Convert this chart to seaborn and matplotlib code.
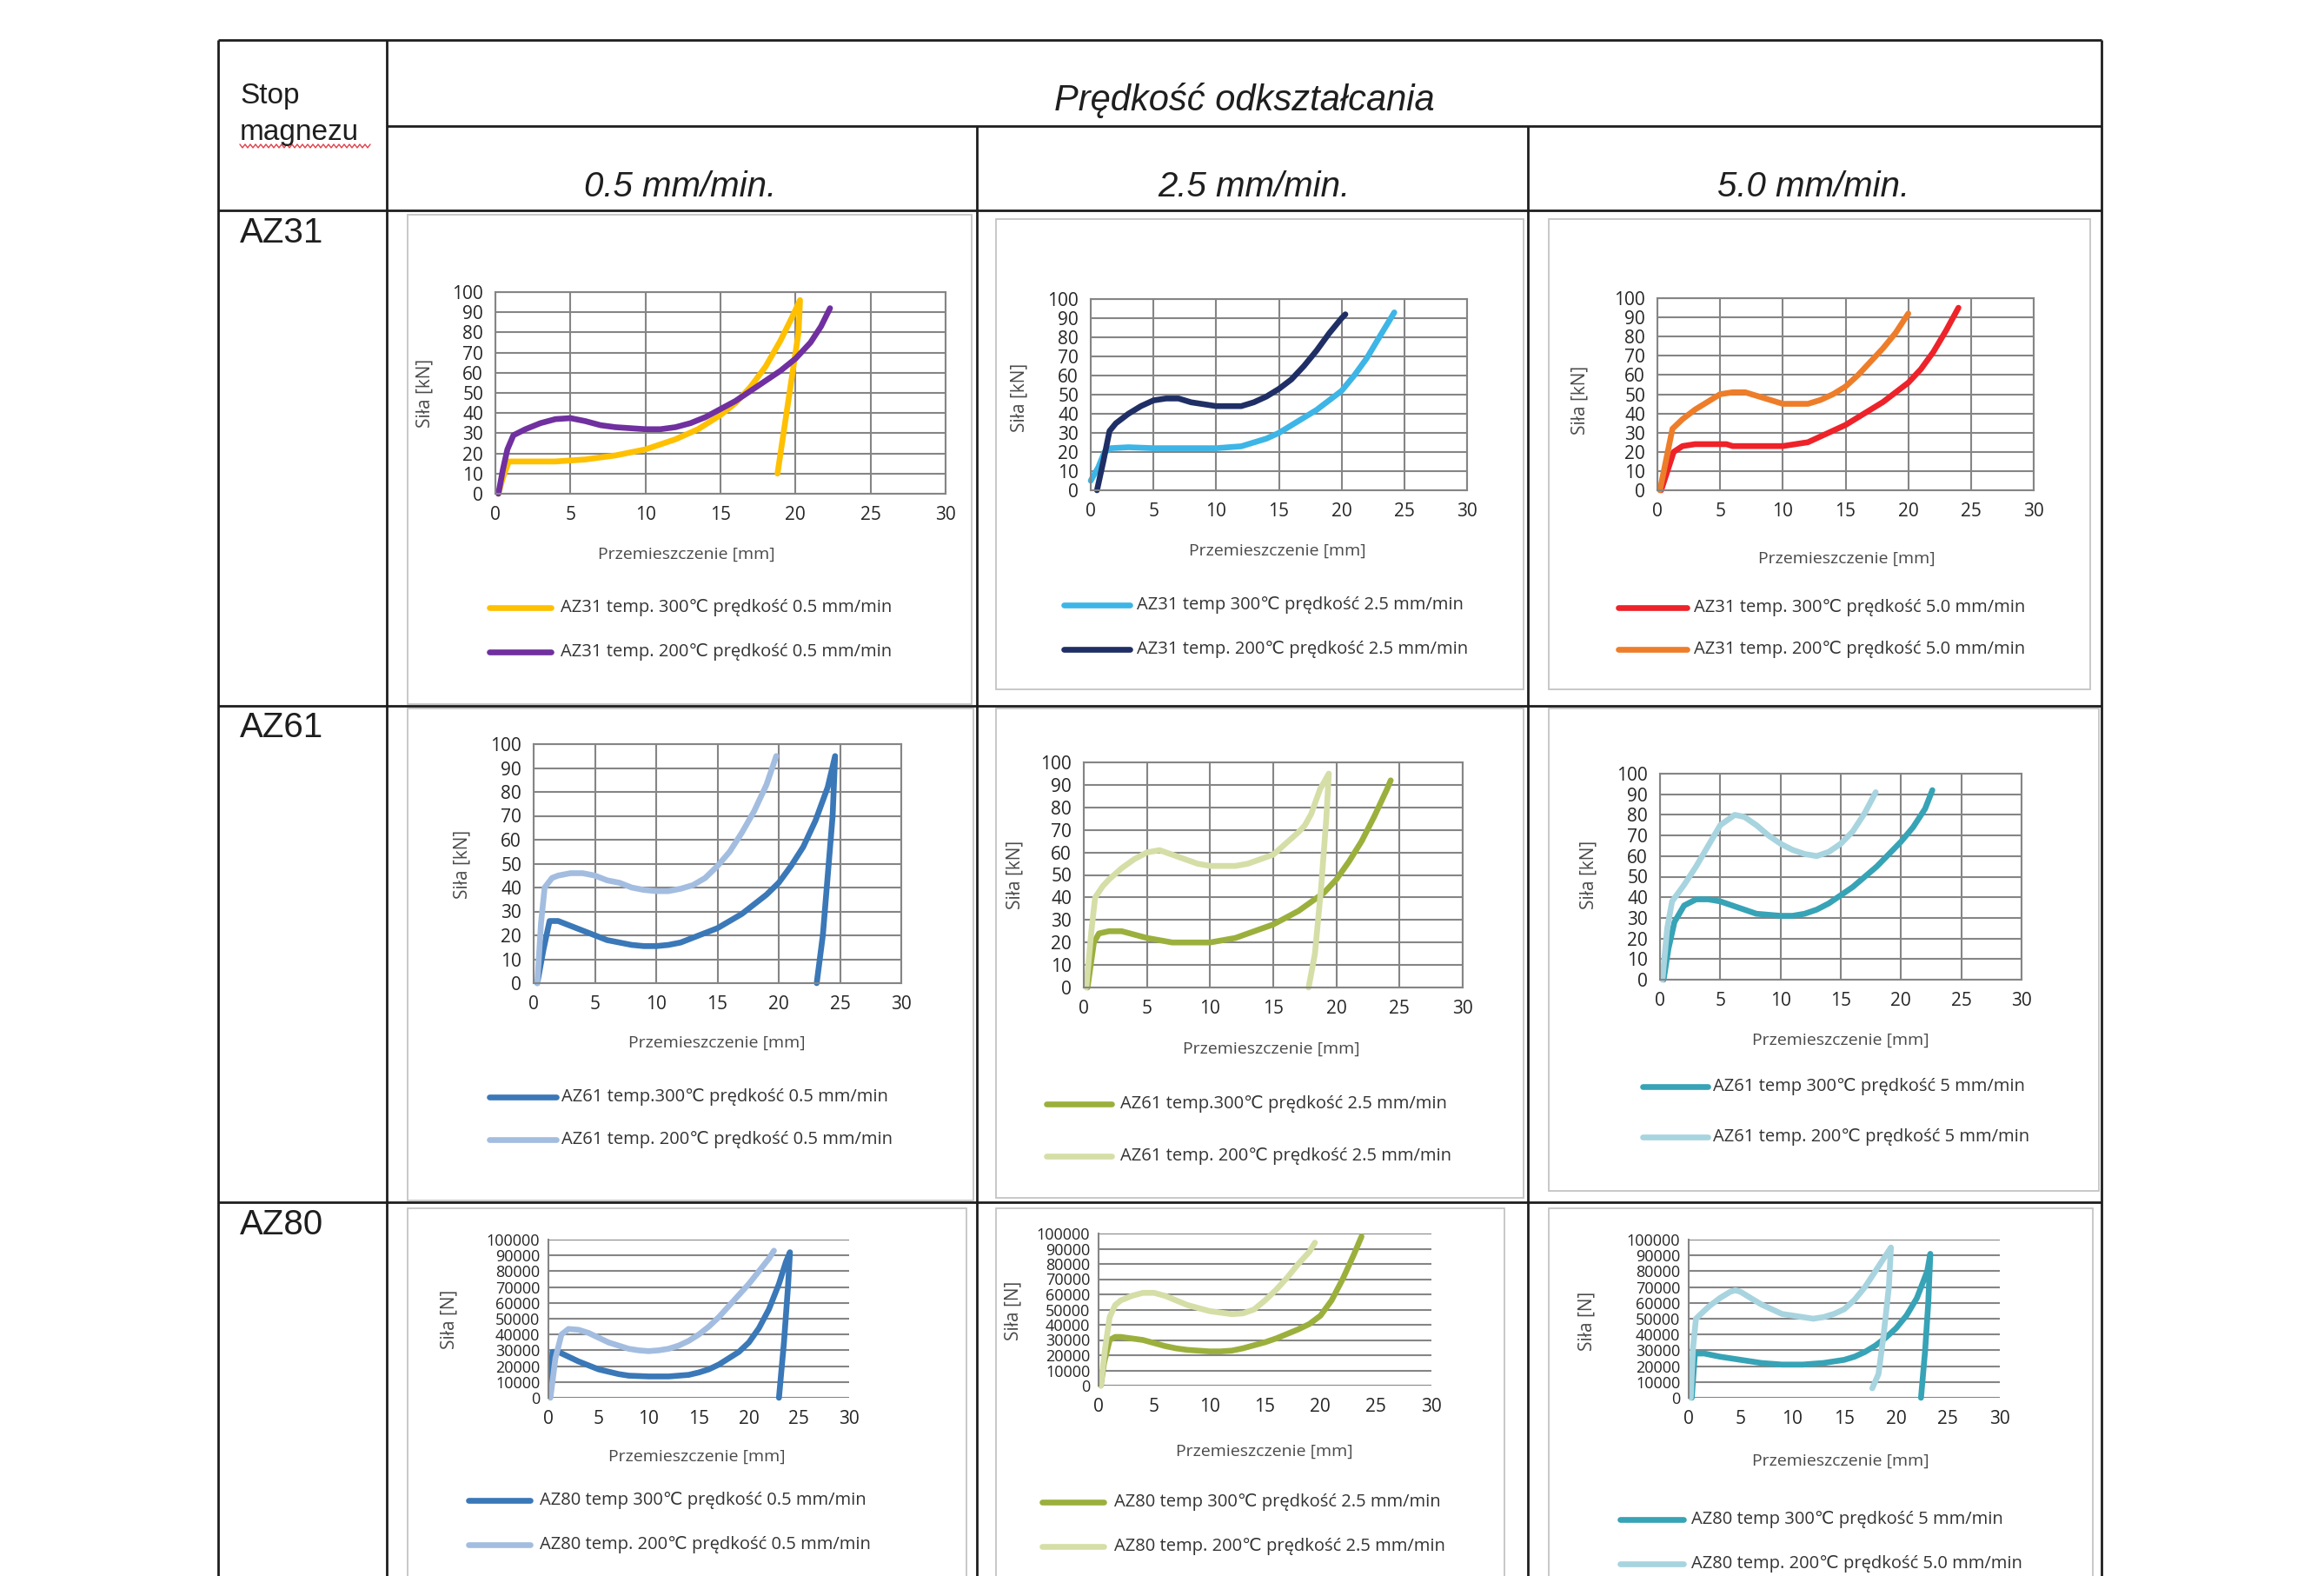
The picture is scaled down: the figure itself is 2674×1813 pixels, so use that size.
import numpy as np
import matplotlib
matplotlib.use("Agg")
import matplotlib.pyplot as plt
from matplotlib.lines import Line2D
from matplotlib.patches import Rectangle
import seaborn as sns

# ---------------------------------------------------------------------------
# Compression test curves: displacement [mm] vs force (kN for AZ31/AZ61, N for AZ80)
# ---------------------------------------------------------------------------
alloys = ["AZ31", "AZ61", "AZ80"]
speeds = ["0.5 mm/min.", "2.5 mm/min.", "5.0 mm/min."]

# AZ31, 0.5 mm/min
az31_05_300_x = [0.2, 0.5, 0.9, 2, 4, 6, 8, 10, 12, 13.5, 15, 16, 17, 18, 19, 19.8, 20.3, 20.2, 19.6, 19.1, 18.8]
az31_05_300_y = [0, 8, 16, 16, 16, 17, 19, 22, 27, 32, 39, 45, 53, 63, 76, 88, 96, 80, 50, 25, 10]
az31_05_200_x = [0.2, 0.5, 0.8, 1.2, 2, 3, 4, 5, 6, 7, 8, 10, 11, 12, 13, 14, 15, 16, 17, 18, 19, 20, 21, 21.7, 22.3]
az31_05_200_y = [0, 12, 22, 29, 32, 35, 37, 37.5, 36, 34, 33, 32, 32, 33, 35, 38, 42, 46, 51, 56, 61, 67, 75, 83, 92]

# AZ31, 2.5 mm/min
az31_25_300_x = [0.0, 0.6, 1.1, 1.6, 3, 5, 7, 10, 12, 13, 14, 15, 16, 17, 18, 19, 20, 21, 22, 23, 24.2]
az31_25_300_y = [5, 12, 20, 22, 22.5, 22, 22, 22, 23, 25, 27, 30, 34, 38, 42, 47, 52, 60, 69, 80, 93]
az31_25_200_x = [0.5, 1.0, 1.5, 2, 3, 4, 5, 6, 7, 8, 9, 10, 11, 12, 13, 14, 15, 16, 17, 18, 19, 20, 20.3]
az31_25_200_y = [0, 15, 31, 35, 40, 44, 47, 48, 48, 46, 45, 44, 44, 44, 46, 49, 53, 58, 65, 73, 82, 90, 92]

# AZ31, 5.0 mm/min
az31_50_300_x = [0.3, 0.8, 1.3, 2, 3, 5, 5.5, 6, 8, 10, 11, 12, 13, 14, 15, 16, 17, 18, 19, 20, 21, 22, 23, 24]
az31_50_300_y = [0, 10, 20, 23, 24, 24, 24, 23, 23, 23, 24, 25, 28, 31, 34, 38, 42, 46, 51, 56, 63, 72, 83, 95]
az31_50_200_x = [0.2, 0.7, 1.2, 2, 3, 4, 5, 6, 7, 8, 9, 10, 11, 12, 13, 14, 15, 16, 17, 18, 19, 20]
az31_50_200_y = [0, 16, 32, 37, 42, 46, 50, 51, 51, 49, 47, 45, 45, 45, 47, 50, 54, 60, 67, 74, 82, 92]

# AZ61, 0.5 mm/min
az61_05_300_x = [0.3, 0.8, 1.3, 2, 3, 4, 5, 6, 7, 8, 9, 10, 11, 12, 13, 14, 15, 16, 17, 18, 19, 20, 21, 22, 23, 24, 24.6, 24.4, 24.0, 23.6, 23.1]
az61_05_300_y = [0, 14, 26, 26, 24, 22, 20, 18, 17, 16, 15.5, 15.5, 16, 17, 19, 21, 23, 26, 29, 33, 37, 42, 49, 57, 68, 82, 95, 70, 45, 20, 0]
az61_05_200_x = [0.3, 0.6, 0.9, 1.5, 2, 3, 4, 5, 6, 7, 8, 9, 10, 11, 12, 13, 14, 15, 16, 17, 18, 19, 19.8]
az61_05_200_y = [0, 25, 40, 44, 45, 46, 46, 45, 43, 42, 40, 39, 38.5, 38.5, 39.5, 41, 44, 49, 55, 63, 72, 83, 95]

# AZ61, 2.5 mm/min
az61_25_300_x = [0.3, 0.8, 1.2, 2, 3, 4, 5, 6, 7, 8, 10, 11, 12, 13, 14, 15, 16, 17, 18, 19, 20, 21, 22, 23, 24, 24.3]
az61_25_300_y = [0, 20, 24, 25, 25, 23.5, 22, 21, 20, 20, 20, 21, 22, 24, 26, 28, 31, 34, 38, 42, 48, 56, 65, 76, 88, 92]
az61_25_200_x = [0.2, 0.6, 0.9, 1.5, 2, 3, 4, 5, 6, 7, 8, 9, 10, 11, 12, 13, 14, 15, 16, 17, 17.5, 18, 18.7, 19.4, 19.2, 18.8, 18.3, 17.8]
az61_25_200_y = [0, 25, 40, 45, 48, 53, 57, 60, 61, 59, 57, 55, 54, 54, 54, 55, 57, 59, 64, 69, 72, 77, 88, 95, 75, 45, 15, 0]

# AZ61, 5 mm/min
az61_50_300_x = [0.3, 0.7, 1.2, 2, 3, 4, 5, 6, 7, 8, 9, 10, 11, 12, 13, 14, 15, 16, 17, 18, 19, 20, 21, 22, 22.6]
az61_50_300_y = [0, 15, 28, 36, 39, 39, 38, 36, 34, 32, 31.5, 31, 31, 32, 34, 37, 41, 45, 50, 55, 61, 67, 74, 83, 92]
az61_50_200_x = [0.2, 0.6, 1, 1.5, 2, 3, 4, 5, 6.2, 7, 8, 9, 10, 11, 12, 13, 14, 15, 16, 17, 17.9]
az61_50_200_y = [0, 25, 38, 42, 46, 55, 65, 75, 80, 79, 75, 70, 66, 63, 61, 60, 62, 66, 72, 81, 91]

# AZ80, 0.5 mm/min (force in N)
az80_05_300_x = [0.2, 0.4, 1, 2, 3, 4, 5, 6, 7, 8, 10, 12, 14, 15, 16, 17, 18, 19, 20, 21, 22, 23, 23.7, 24.1, 23.9, 23.5, 23.0]
az80_05_300_y = [5000, 29000, 29000, 26000, 23000, 20500, 18000, 16500, 15000, 14000, 13500, 13500, 14500, 16000, 18000, 21000, 25000, 29000, 35000, 44000, 56000, 72000, 86000, 92000, 70000, 35000, 0]
az80_05_200_x = [0.2, 0.7, 1.3, 2, 3, 4, 5, 6, 7, 8, 9, 10, 11, 12, 13, 14, 15, 16, 17, 18, 19, 20, 21, 22, 22.5]
az80_05_200_y = [0, 25000, 40000, 43500, 43000, 41000, 38000, 35000, 33000, 31000, 30000, 29500, 30000, 31000, 33000, 36000, 40000, 45000, 51000, 58000, 65000, 72000, 80000, 88000, 93000]

# AZ80, 2.5 mm/min (force in N)
az80_25_300_x = [0.2, 0.5, 1, 1.5, 2, 3, 4, 5, 6, 7, 8, 9, 10, 11, 12, 13, 14, 15, 16, 17, 18, 19, 20, 21, 22, 23, 23.7]
az80_25_300_y = [0, 15000, 30000, 32000, 32000, 31000, 30000, 28000, 26000, 24500, 23500, 23000, 22500, 22500, 23000, 24500, 26500, 28500, 31000, 34000, 37000, 40500, 46000, 56000, 70000, 86000, 98000]
az80_25_200_x = [0.2, 0.6, 1, 1.5, 2, 3, 4, 5, 6, 7, 8, 9, 10, 11, 12, 13, 14, 15, 16, 17, 18, 19, 19.5]
az80_25_200_y = [0, 25000, 45000, 53000, 56000, 59000, 61000, 61000, 59000, 56000, 53000, 51000, 49000, 48000, 47000, 47500, 50000, 56000, 63000, 71000, 80000, 88000, 94000]

# AZ80, 5 mm/min (force in N)
az80_50_300_x = [0.3, 0.6, 1.5, 3, 5, 7, 9, 11, 13, 15, 16, 17, 18, 19, 20, 21, 22, 23, 23.3, 23.1, 22.8, 22.4]
az80_50_300_y = [0, 28000, 28000, 26000, 24000, 22000, 21000, 21000, 22000, 24000, 26000, 29000, 33000, 38000, 44000, 52000, 63000, 80000, 91000, 60000, 30000, 0]
az80_50_200_x = [0.2, 0.4, 0.7, 1.5, 2, 3, 4, 4.5, 5, 6, 7, 8, 9, 10, 11, 12, 13, 14, 15, 16, 17, 18, 18.8, 19.5, 19.3, 18.8, 18.3, 17.7]
az80_50_200_y = [0, 30000, 50000, 55000, 58000, 63000, 67000, 68000, 67000, 63000, 59000, 56000, 53000, 52000, 51000, 50000, 51000, 53000, 56000, 62000, 70000, 80000, 88000, 95000, 70000, 40000, 15000, 6000]

# Legend labels (300 °C first, 200 °C second) for every cell
labels = [
    [("AZ31 temp. 300℃ prędkość 0.5 mm/min", "AZ31 temp. 200℃ prędkość 0.5 mm/min"),
     ("AZ31 temp 300℃ prędkość 2.5 mm/min", "AZ31 temp. 200℃ prędkość 2.5 mm/min"),
     ("AZ31 temp. 300℃ prędkość 5.0 mm/min", "AZ31 temp. 200℃ prędkość 5.0 mm/min")],
    [("AZ61 temp.300℃ prędkość 0.5 mm/min", "AZ61 temp. 200℃ prędkość 0.5 mm/min"),
     ("AZ61 temp.300℃ prędkość 2.5 mm/min", "AZ61 temp. 200℃ prędkość 2.5 mm/min"),
     ("AZ61 temp 300℃ prędkość 5 mm/min", "AZ61 temp. 200℃ prędkość 5 mm/min")],
    [("AZ80 temp 300℃ prędkość 0.5 mm/min", "AZ80 temp. 200℃ prędkość 0.5 mm/min"),
     ("AZ80 temp 300℃ prędkość 2.5 mm/min", "AZ80 temp. 200℃ prędkość 2.5 mm/min"),
     ("AZ80 temp 300℃ prędkość 5 mm/min", "AZ80 temp. 200℃ prędkość 5.0 mm/min")],
]

curves = [
    [((az31_05_300_x, az31_05_300_y), (az31_05_200_x, az31_05_200_y)),
     ((az31_25_300_x, az31_25_300_y), (az31_25_200_x, az31_25_200_y)),
     ((az31_50_300_x, az31_50_300_y), (az31_50_200_x, az31_50_200_y))],
    [((az61_05_300_x, az61_05_300_y), (az61_05_200_x, az61_05_200_y)),
     ((az61_25_300_x, az61_25_300_y), (az61_25_200_x, az61_25_200_y)),
     ((az61_50_300_x, az61_50_300_y), (az61_50_200_x, az61_50_200_y))],
    [((az80_05_300_x, az80_05_300_y), (az80_05_200_x, az80_05_200_y)),
     ((az80_25_300_x, az80_25_300_y), (az80_25_200_x, az80_25_200_y)),
     ((az80_50_300_x, az80_50_300_y), (az80_50_200_x, az80_50_200_y))],
]

colors = [
    [("#FFC000", "#7030A0"), ("#3DB5E6", "#1F2F66"), ("#EE2229", "#EE7D2A")],
    [("#3A78B8", "#A3BDE0"), ("#9BB03C", "#D5DEA6"), ("#37A3B6", "#A7D4DF")],
    [("#3A78B8", "#A3BDE0"), ("#9BB03C", "#D5DEA6"), ("#37A3B6", "#A7D4DF")],
]

ylabels = ["Siła [kN]", "Siła [kN]", "Siła [N]"]
xlabel = "Przemieszczenie [mm]"

# ---------------------------------------------------------------------------
# Layout (pixel positions on a 2674 x 1813 canvas)
# ---------------------------------------------------------------------------
W, H, DPI = 2674, 1813, 100

AX_BOX = [  # left, top, right, bottom of each plot area
    [(570, 336, 1088, 568), (1255, 344, 1688, 564), (1907, 343, 2340, 564)],
    [(614, 856, 1037, 1131), (1247, 877, 1683, 1136), (1910, 890, 2326, 1127)],
    [(631, 1426, 977, 1608), (1264, 1419, 1647, 1594), (1943, 1426, 2301, 1608)],
]
FRAME = [
    [(469, 247, 1118, 810), (1146, 252, 1753, 793), (1782, 252, 2405, 793)],
    [(469, 815, 1120, 1381), (1146, 815, 1753, 1378), (1782, 815, 2415, 1370)],
    [(469, 1390, 1112, 1830), (1146, 1390, 1731, 1830), (1782, 1390, 2408, 1830)],
]
YLAB = [
    [(489, 452), (1173, 457), (1818, 460)],
    [(532, 994), (1168, 1006), (1828, 1006)],
    [(517, 1518), (1166, 1508), (1826, 1520)],
]
XLAB = [
    [(790, 638), (1470, 634), (2125, 643)],
    [(825, 1200), (1463, 1207), (2118, 1197)],
    [(802, 1676), (1455, 1670), (2118, 1681)],
]
LEGEND = [  # line x0, line x1, text x, y first, y second
    [(563, 634, 645, 699, 750), (1224, 1300, 1308, 696, 747), (1862, 1941, 1949, 699, 747)],
    [(563, 640, 646, 1262, 1311), (1204, 1279, 1289, 1270, 1330), (1890, 1965, 1971, 1250, 1308)],
    [(539, 610, 621, 1726, 1777), (1199, 1270, 1282, 1728, 1779), (1864, 1937, 1946, 1748, 1799)],
]

sns.set_theme(style="white")
CHART_FONT = ["Open Sans", "DejaVu Sans"]
TABLE_FONT = ["Liberation Sans", "DejaVu Sans"]
plt.rcParams["font.family"] = CHART_FONT

fig = plt.figure(figsize=(W / DPI, H / DPI), dpi=DPI)
fig.patch.set_facecolor("white")


def fx(px):
    return px / W


def fy(py):
    return 1 - py / H


def hline(x0, x1, y, **kw):
    fig.add_artist(Line2D([fx(x0), fx(x1)], [fy(y), fy(y)], transform=fig.transFigure, **kw))


def vline(x, y0, y1, **kw):
    fig.add_artist(Line2D([fx(x), fx(x)], [fy(y0), fy(y1)], transform=fig.transFigure, **kw))


# chart frames inside the table cells
for r in range(3):
    for c in range(3):
        l, t, rr, b = FRAME[r][c]
        fig.add_artist(Rectangle((fx(l), fy(b)), fx(rr) - fx(l), fy(t) - fy(b),
                                 transform=fig.transFigure, fill=False,
                                 edgecolor="#c4c4c4", lw=1.3))

GRID = "#858585"
TICK_C = "#262626"
LABEL_C = "#4a4a4a"
LW = 4.8

for r in range(3):
    for c in range(3):
        l, t, rr, b = AX_BOX[r][c]
        ax = fig.add_axes([fx(l), fy(b), fx(rr) - fx(l), fy(t) - fy(b)])
        ax.set_facecolor("white")
        ymax = 100000 if r == 2 else 100
        ystep = 10000 if r == 2 else 10

        for (xs, ys), col in zip(curves[r][c], colors[r][c]):
            sns.lineplot(x=xs, y=ys, sort=False, estimator=None, ax=ax, color=col,
                         lw=LW, legend=False, solid_capstyle="round", clip_on=False)

        ax.set_xlim(0, 30)
        ax.set_ylim(0, ymax)
        ax.set_xticks(np.arange(0, 31, 5))
        ax.set_yticks(np.arange(0, ymax + 1, ystep))
        ax.tick_params(length=0, pad=10, labelsize=15, labelcolor=TICK_C)
        if r == 2:
            ax.tick_params(axis="y", labelsize=13, pad=7)
            ax.grid(axis="y", color=GRID, lw=1.5)
            ax.grid(axis="x", visible=False)
            for s in ("top", "right", "bottom"):
                ax.spines[s].set_visible(False)
            ax.spines["left"].set_color(GRID)
            ax.spines["left"].set_linewidth(1.5)
        else:
            ax.grid(True, color=GRID, lw=1.5)
            for s in ax.spines.values():
                s.set_visible(True)
                s.set_color(GRID)
                s.set_linewidth(1.5)
        ax.set_axisbelow(True)

        ax.set_ylabel(ylabels[r], fontsize=15, color=LABEL_C)
        ax.yaxis.set_label_coords(fx(YLAB[r][c][0]), fy(YLAB[r][c][1]), transform=fig.transFigure)
        ax.set_xlabel(xlabel, fontsize=14, color=LABEL_C)
        ax.xaxis.set_label_coords(fx(XLAB[r][c][0]), fy(XLAB[r][c][1]), transform=fig.transFigure)
        ax.xaxis.label.set_va("center")
        ax.yaxis.label.set_va("center")

        # legend: two entries below each chart
        x0, x1, tx, y1, y2 = LEGEND[r][c]
        for yy, lab, col in zip((y1, y2), labels[r][c], colors[r][c]):
            hline(x0, x1, yy, color=col, lw=LW)
            fig.text(fx(tx), fy(yy), lab, fontsize=14.5, color="#333333",
                     va="center", ha="left")

# ---------------------------------------------------------------------------
# Table grid and headers
# ---------------------------------------------------------------------------
TL = dict(color="#1e1e1e", lw=2.0, solid_capstyle="butt")
hline(251, 2418, 46, **TL)
hline(445, 2418, 145, **TL)
hline(251, 2418, 242, **TL)
hline(251, 2418, 812, **TL)
hline(251, 2418, 1383, **TL)
vline(251, 46, 1813, **TL)
vline(445, 46, 1813, **TL)
vline(2418, 46, 1813, **TL)
vline(1124, 145, 1813, **TL)
vline(1758, 145, 1813, **TL)

fig.text(fx(1432), fy(116), "Prędkość odkształcania", family=TABLE_FONT, style="italic",
         fontsize=30, color="#1e1e1e", ha="center", va="center")
for sx, s in zip((783, 1443, 2087), speeds):
    fig.text(fx(sx), fy(215), s, family=TABLE_FONT, style="italic", fontsize=29,
             color="#1e1e1e", ha="center", va="center")

fig.text(fx(276), fy(111), "Stop", family=TABLE_FONT, fontsize=24, color="#1e1e1e",
         ha="left", va="center")
fig.text(fx(276), fy(152), "magnezu", family=TABLE_FONT, fontsize=24, color="#1e1e1e",
         ha="left", va="center")
# red wavy spell-check underline under "magnezu"
wx = np.arange(276, 428, 3.0)
wy = 168 + 2.0 * np.where(np.arange(len(wx)) % 2 == 0, -1, 1)
fig.add_artist(Line2D(fx(wx), fy(wy), transform=fig.transFigure, color="#e0404a", lw=1.0))

for ay, name in zip((268, 837, 1409), alloys):
    fig.text(fx(276), fy(ay), name, family=TABLE_FONT, fontsize=29, color="#1e1e1e",
             ha="left", va="center")

fig.savefig("out.png", dpi=DPI, facecolor="white")
